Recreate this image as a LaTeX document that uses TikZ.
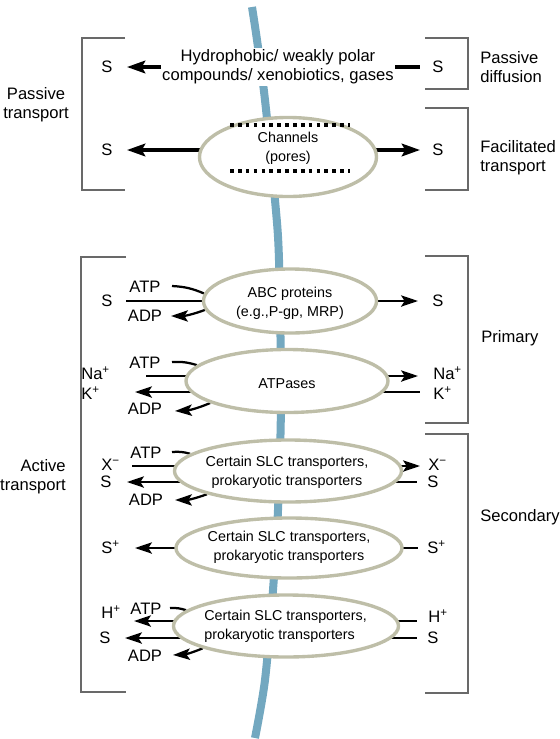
\documentclass[tikz,border=0pt]{standalone}
\usepackage{fontspec}
\setmainfont{Liberation Sans}
\usetikzlibrary{arrows.meta,shapes.geometric}
\definecolor{membblue}{RGB}{115,168,192}
\definecolor{protgray}{RGB}{190,190,168}
\definecolor{brkgray}{RGB}{105,105,105}
\pgfdeclarelayer{back}
\pgfsetlayers{back,main}
\tikzset{
  lbl/.style={font=\fontsize{11.8}{13.6}\selectfont,inner sep=0pt,align=center},
  txt/.style={font=\fontsize{10.2}{13.6}\selectfont,inner sep=0pt,align=center},
  prot/.style={ellipse,draw=protgray,line width=2.4pt,fill=white,inner sep=0pt},
  arr/.style={-{Stealth[length=13pt,width=9pt,inset=2.5pt]},line width=2.4pt},
  sarr/.style={-{Stealth[length=12pt,width=8pt,inset=2.5pt]},line width=1.6pt},
  bline/.style={line width=1.6pt},
  brk/.style={draw=brkgray,line width=0.8pt},
  membrane/.style={draw=membblue,line width=5.7pt},
  pore/.style={line width=2.8pt,dash pattern=on 2.6pt off 3pt},
}
\begin{document}
\begin{tikzpicture}[x=0.025cm,y=-0.025cm]
\useasboundingbox (0,0) rectangle (560,739);
% proteins
\node[prot,minimum width=4.425cm,minimum height=1.975cm] (chan) at (288,157) {};
\node[prot,minimum width=4.325cm,minimum height=1.6cm] (abc) at (290,301) {};
\node[prot,minimum width=5.05cm,minimum height=1.575cm] (atpase) at (287,381) {};
\node[prot,minimum width=5.675cm,minimum height=1.55cm] (slcA) at (288,471) {};
\node[prot,minimum width=5.65cm,minimum height=1.5cm] (slcB) at (289,548) {};
\node[prot,minimum width=5.625cm,minimum height=1.55cm] (slcC) at (286,626) {};
\node[txt] (chant) at (288,148) {Channels\\(pores)};
\node[txt] (abct) at (290,303) {ABC proteins\\(e.g.,P-gp, MRP)};
\node[txt] (atpaset) at (287,384) {ATPases};
\node[txt] (slcAt) at (287,472) {Certain SLC transporters,\\prokaryotic transporters};
\node[txt] (slcBt) at (289,547) {Certain SLC transporters,\\prokaryotic transporters};
\node[txt,align=left,anchor=west] (slcCt) at (204,626) {Certain SLC transporters,\\prokaryotic transporters};
\draw[pore] (230,125) -- (350,125);
\draw[pore] (230,171) -- (350,171);

% passive transport
\node[lbl,fill=white,inner sep=1pt] (hydro) at (278,67) {Hydrophobic/ weakly polar\\compounds/ xenobiotics, gases};
\node[lbl] (sPDL) at (107,67) {S};
\node[lbl] (sPDR) at (438,67) {S};
\node[lbl] (sFTL) at (107,150) {S};
\node[lbl] (sFTR) at (438,150) {S};
\node[lbl] (passive) at (36,105) {Passive\\transport};
\node[lbl,align=left,anchor=west] (pdiff) at (480,67) {Passive\\diffusion};
\node[lbl,align=left,anchor=west] (facil) at (480,158) {Facilitated\\transport};

% active transport
\node[lbl,align=right,anchor=east] (active) at (66,477) {Active\\transport};
\node[lbl,anchor=west] (primary) at (481,338) {Primary};
\node[lbl,anchor=west] (secondary) at (480,517) {Secondary};

\node[lbl] (sAbcL) at (107,301) {S};
\node[lbl] (sAbcR) at (438,301) {S};
\node[lbl] (atp1) at (145,287) {ATP};
\node[lbl] (adp1) at (145,316) {ADP};

\node[lbl,anchor=west] (naL) at (81,373) {Na\textsuperscript{+}};
\node[lbl,anchor=west] (kL) at (81,393) {K\textsuperscript{+}};
\node[lbl,anchor=west] (naR) at (433,373) {Na\textsuperscript{+}};
\node[lbl,anchor=west] (kR) at (433,393) {K\textsuperscript{+}};
\node[lbl] (atp2) at (145,363) {ATP};
\node[lbl] (adp2) at (145,409) {ADP};

\node[lbl,anchor=west] (xL) at (101,465) {X\textsuperscript{−}};
\node[lbl] (sSlcAL) at (106,482) {S};
\node[lbl,anchor=west] (xR) at (428,465) {X\textsuperscript{−}};
\node[lbl] (sSlcAR) at (433,482) {S};
\node[lbl] (atp3) at (146,453) {ATP};
\node[lbl] (adp3) at (146,500) {ADP};

\node[lbl,anchor=west] (spL) at (101,547) {S\textsuperscript{+}};
\node[lbl,anchor=west] (spR) at (427,547) {S\textsuperscript{+}};

\node[lbl,anchor=west] (hL) at (101,612) {H\textsuperscript{+}};
\node[lbl] (sSlcCL) at (105,638) {S};
\node[lbl,anchor=west] (hR) at (428,616) {H\textsuperscript{+}};
\node[lbl] (sSlcCR) at (433,638) {S};
\node[lbl] (atp4) at (146,609) {ATP};
\node[lbl] (adp4) at (145,656) {ADP};

% free ends
\coordinate (pdL) at (127,67);  \coordinate (pdR) at (420,67);
\coordinate (ftL) at (127,150); \coordinate (ftR) at (420,150);
\coordinate (abcL) at (126,301); \coordinate (abcR) at (418,301);
\coordinate (naLe) at (146,376); \coordinate (kLe) at (135,392);
\coordinate (naRe) at (418,376); \coordinate (kRe) at (420,392);
\coordinate (xLe) at (132,466); \coordinate (sALe) at (127,482);
\coordinate (xRe) at (420,466); \coordinate (sARe) at (417,482);
\coordinate (spLe) at (135,548); \coordinate (spRe) at (418,548);
\coordinate (hLe) at (134,621); \coordinate (sCLe) at (125,638);
\coordinate (hRe) at (417,621); \coordinate (sCRe) at (417,638);
\coordinate (atp1e) at (172,286); \coordinate (adp1e) at (171,316);
\coordinate (atp2e) at (172,362); \coordinate (adp2e) at (175,411);
\coordinate (atp3e) at (172,452); \coordinate (adp3e) at (175,500);
\coordinate (atp4e) at (170,608); \coordinate (adp4e) at (173,655);

\begin{pgfonlayer}{back}
\draw[membrane] plot[smooth] coordinates {(252,7) (257,40) (265,100) (275,200) (279,260) (281,400) (278,510) (273,590) (265,680) (255,738)};
% brackets
\draw[brk] (125,38) -- (82,38) -- (82,190) -- (125,190);
\draw[brk] (425,38) -- (468,38) -- (468,89) -- (425,89);
\draw[brk] (425,108) -- (468,108) -- (468,190) -- (425,190);
\draw[brk] (126,257) -- (81,257) -- (81,692) -- (126,692);
\draw[brk] (425,256) -- (468,256) -- (468,423) -- (425,423);
\draw[brk] (425,434) -- (468,434) -- (468,693) -- (425,693);
% passive
\draw[arr] (hydro.west) -- (pdL);
\draw[line width=2.4pt] (hydro.east) -- (pdR);
\draw[arr] (chan.center |- ftL) -- (ftL);
\draw[arr] (chan.center |- ftR) -- (ftR);
% primary
\draw[bline] (abc.center |- abcL) -- (abcL);
\draw[sarr] (abc.center) -- (abcR);
\draw[bline] (atp1e) to[bend left=10] (abc.175);
\draw[sarr] (abc.186) to[bend left=10] (adp1e);
\draw[bline] (atpase.center |- naLe) -- (naLe);
\draw[sarr] (atpase.center |- kLe) -- (kLe);
\draw[sarr] (atpase.center |- naRe) -- (naRe);
\draw[bline] (atpase.center |- kRe) -- (kRe);
\draw[bline] (atp2e) to[bend left=10] (atpase.170);
\draw[sarr] (atpase.196) to[bend left=10] (adp2e);
% secondary
\draw[bline] (slcA.center |- xLe) -- (xLe);
\draw[sarr] (slcA.center |- sALe) -- (sALe);
\draw[sarr] (slcA.center |- xRe) -- (xRe);
\draw[bline] (slcA.center |- sARe) -- (sARe);
\draw[bline] (atp3e) to[bend left=10] (slcA.170);
\draw[sarr] (slcA.196) to[bend left=10] (adp3e);
\draw[sarr] (slcB.center) -- (spLe);
\draw[bline] (slcB.center) -- (spRe);
\draw[sarr] (slcC.center |- hLe) -- (hLe);
\draw[sarr] (slcC.center |- sCLe) -- (sCLe);
\draw[bline] (slcC.center |- hRe) -- (hRe);
\draw[bline] (slcC.center |- sCRe) -- (sCRe);
\draw[bline] (atp4e) to[bend left=10] (slcC.171);
\draw[sarr] (slcC.195) to[bend left=10] (adp4e);
\end{pgfonlayer}
\end{tikzpicture}
\end{document}
